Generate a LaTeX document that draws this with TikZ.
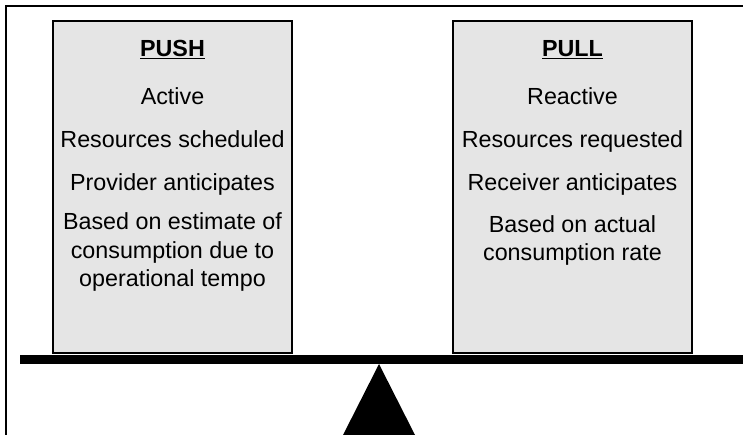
\documentclass[tikz,border=0pt]{standalone}
\usepackage{fontspec}
\setmainfont{Liberation Sans}
\usepackage{tikz}

\tikzset{
  side/.style={draw, line width=2pt, fill=black!10, minimum width=239pt, minimum height=332pt, inner sep=0pt},
  item/.style={anchor=base, align=center, inner sep=0pt, font=\fontsize{23.3}{28}\selectfont}
}

\begin{document}
\begin{tikzpicture}[x=1pt,y=-1pt]
\useasboundingbox (0,0) rectangle (743,435);
\draw[line width=2.5pt] (743,6) -- (6,6) -- (6,435);
\fill (20,355) rectangle (743,364);
\fill (379,364) -- (343,435) -- (415,435) -- cycle;
\node[side] (push) at (172.5,187) {};
\node[side] (pull) at (572.5,187) {};
\node[item] (pushtitle) at (172.5,57) {\textbf{\underline{PUSH}}};
\node[item] (active) at (172.5,105) {Active};
\node[item] (scheduled) at (172.5,148) {Resources scheduled};
\node[item] (provider) at (172.5,191) {Provider anticipates};
\node[item] (estimate) at (172.5,286) {Based on estimate of\\consumption due to\\operational tempo};
\node[item] (pulltitle) at (572.5,57) {\textbf{\underline{PULL}}};
\node[item] (reactive) at (572.5,105) {Reactive};
\node[item] (requested) at (572.5,148) {Resources requested};
\node[item] (receiver) at (572.5,191) {Receiver anticipates};
\node[item] (actual) at (572.5,261) {Based on actual\\consumption rate};
\end{tikzpicture}
\end{document}
